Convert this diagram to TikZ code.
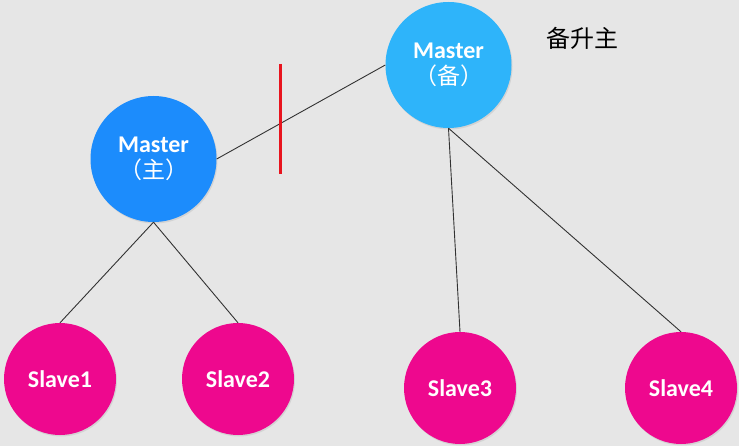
\documentclass[tikz,border=0pt]{standalone}
\usepackage{fontspec}
\setmainfont{Carlito}
\newfontfamily\cjk{Noto Sans CJK SC}
\usetikzlibrary{shadows}
\definecolor{bgc}{RGB}{230,230,230}
\definecolor{mainc}{RGB}{28,140,252}
\definecolor{backc}{RGB}{46,180,250}
\definecolor{slavec}{RGB}{238,8,142}
\definecolor{linec}{RGB}{50,50,50}
\definecolor{cutc}{RGB}{232,20,30}
\tikzset{
  ball/.style={circle, inner sep=0pt, text=white, align=center,
    drop shadow={opacity=0.18, shadow xshift=1pt, shadow yshift=-1.5pt}},
  masterball/.style={ball, minimum size=126pt, font=\bfseries\fontsize{24}{27}\selectfont},
  slaveball/.style={ball, fill=slavec, minimum size=112pt, font=\bfseries\fontsize{24}{27}\selectfont},
  link/.style={draw=linec, line width=0.9pt}
}
\begin{document}
\begin{tikzpicture}[x=1pt, y=-1pt]
\fill[bgc] (0,0) rectangle (739,446);
\useasboundingbox (0,0) rectangle (739,446);

\node[masterball, fill=mainc] (mm) at (153.5,159) {Master\\[-1pt]{\cjk\mdseries\fontsize{23}{26}\selectfont （主）}};
\node[masterball, fill=backc] (mb) at (448.5,65) {Master\\[-1pt]{\cjk\mdseries\fontsize{23}{26}\selectfont （备）}};
\node[slaveball] (s1) at (60,379) {Slave1};
\node[slaveball] (s2) at (238,379) {Slave2};
\node[slaveball] (s3) at (460,388) {Slave3};
\node[slaveball] (s4) at (681,388) {Slave4};

\node[font=\cjk\fontsize{24}{27}\selectfont] (lbl) at (582,38) {备升主};

\draw[link] (mm.east) -- (mb.west);
\draw[link] (mm.south) -- (s1.north);
\draw[link] (mm.south) -- (s2.north);
\draw[link] (mb.south) -- (s3.north);
\draw[link] (mb.south) -- (s4.north);

\coordinate (cutT) at (280,64);
\coordinate (cutB) at (280,174);
\draw[cutc, line width=3pt] (cutT) -- (cutB);
\end{tikzpicture}
\end{document}
